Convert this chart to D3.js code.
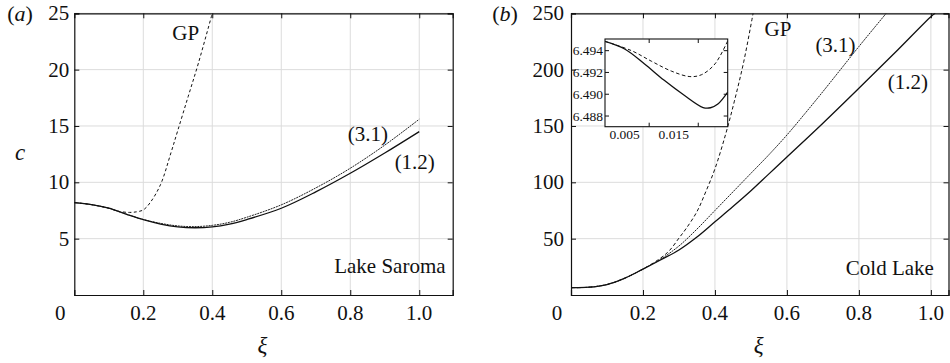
<!DOCTYPE html>
<html><head><meta charset="utf-8">
<script src="https://cdn.jsdelivr.net/npm/d3@7"></script>
<style>body{margin:0;background:#fff}svg{display:block}text{font-family:"Liberation Serif","Times New Roman",serif;fill:#111}</style>
</head><body><svg id="c" width="950" height="363"></svg>
<script>
// ---- Panel (a): Lake Saroma ----
const saromaXi  = [0, 0.05, 0.1, 0.15, 0.2, 0.25, 0.3, 0.35, 0.4, 0.45, 0.5, 0.6, 0.7, 0.8, 0.9, 1.0];
const saroma12  = [8.2, 8.02, 7.7, 7.18, 6.68, 6.3, 6.05, 5.97, 6.05, 6.3, 6.7, 7.7, 9.15, 10.8, 12.6, 14.5];
const saroma31  = [8.2, 8.02, 7.7, 7.18, 6.7, 6.36, 6.13, 6.07, 6.18, 6.45, 6.9, 8.0, 9.5, 11.25, 13.3, 15.6];
const saromaGPXi = [0, 0.05, 0.1, 0.13, 0.16, 0.18, 0.2, 0.22, 0.25, 0.28, 0.3, 0.33, 0.36, 0.4];
const saromaGP   = [8.2, 8.02, 7.7, 7.42, 7.33, 7.38, 7.55, 8.2, 9.8, 12.6, 14.6, 17.6, 20.6, 25];
const ticksXA = [0.2, 0.4, 0.6, 0.8, 1.0];
const ticksYA = [5, 10, 15, 20, 25];

// ---- Panel (b): Cold Lake ----
const coldXi   = [0, 0.05, 0.1, 0.15, 0.2, 0.25, 0.3, 0.35, 0.4, 0.45, 0.5, 0.55, 0.6, 0.7, 0.8, 0.9, 1.0, 1.012];
const cold12   = [6.49, 6.9, 9.3, 15.0, 23, 31.3, 40, 51.5, 65, 78.5, 92.5, 107.5, 122.5, 152.5, 183.5, 215, 247, 250];
const cold31Xi = [0, 0.05, 0.1, 0.15, 0.2, 0.25, 0.3, 0.35, 0.4, 0.45, 0.5, 0.55, 0.6, 0.65, 0.7, 0.75, 0.8, 0.876];
const cold31   = [6.49, 6.9, 9.3, 15.0, 23, 32, 43.5, 58.5, 75, 91.5, 108, 124.5, 142, 161, 180.5, 200.5, 220.5, 250];
const coldGPXi = [0, 0.05, 0.1, 0.15, 0.2, 0.25, 0.274, 0.3, 0.32, 0.35, 0.375, 0.4, 0.43, 0.454, 0.48, 0.506];
const coldGP   = [6.49, 6.9, 9.3, 15.0, 23, 33, 39.6, 50.5, 59, 74, 92, 112, 143, 172, 207, 250];
const ticksXB = [0.2, 0.4, 0.6, 0.8, 1.0];
const ticksYB = [50, 100, 150, 200, 250];

// ---- Inset of (b) ----
const insetXi   = [0.001, 0.005, 0.009, 0.013, 0.017, 0.021, 0.0225, 0.024, 0.026];
const inset12   = [6.49485, 6.49415, 6.4928, 6.4913, 6.48995, 6.48878, 6.48876, 6.4891, 6.4902];
const insetGPXi = [0.001, 0.0064, 0.0105, 0.0146, 0.0183, 0.0207, 0.0234, 0.026];
const insetGP   = [6.49485, 6.494, 6.49302, 6.49211, 6.49162, 6.4918, 6.49278, 6.4949];
const insetTickLabelsX = [0.005, 0.015];
const insetTickMarksX = [0.01, 0.02];
const insetTicksY = [6.488, 6.490, 6.492, 6.494];

const svg = d3.select("#c");
const zip = (xs, ys) => xs.map((x, i) => [x, ys[i]]);

function panel(cfg) {
  const x = d3.scaleLinear().domain(cfg.xd).range([cfg.l, cfg.r]);
  const y = d3.scaleLinear().domain(cfg.yd).range([cfg.b, cfg.t]);
  const g = svg.append("g");
  g.selectAll(".gx").data(cfg.tx).join("line")
    .attr("x1", d => x(d)).attr("x2", d => x(d)).attr("y1", cfg.t).attr("y2", cfg.b)
    .attr("stroke", "#dcdcdc").attr("stroke-width", 1);
  g.selectAll(".gy").data(cfg.ty).join("line")
    .attr("y1", d => y(d)).attr("y2", d => y(d)).attr("x1", cfg.l).attr("x2", cfg.r)
    .attr("stroke", "#dcdcdc").attr("stroke-width", 1);
  const ax = (gen, sc, tv, tr) => g.append("g").attr("transform", tr)
    .call(gen(sc).tickValues(tv).tickSize(-5).tickFormat(""))
    .call(s => s.select(".domain").attr("stroke", "#111").attr("stroke-width", 1.2))
    .call(s => s.selectAll(".tick line").attr("stroke", "#111"));
  ax(d3.axisBottom, x, cfg.tx, `translate(0,${cfg.b})`);
  ax(d3.axisTop, x, cfg.tx, `translate(0,${cfg.t})`);
  ax(d3.axisLeft, y, cfg.ty, `translate(${cfg.l},0)`);
  ax(d3.axisRight, y, cfg.ty, `translate(${cfg.r},0)`);
  g.selectAll(".lx").data(cfg.tx).join("text")
    .attr("x", d => x(d)).attr("y", cfg.b + 25).attr("text-anchor", "middle")
    .attr("font-size", 21).text(d => d3.format(".1f")(d));
  g.append("text").attr("x", x(0) - 14).attr("y", cfg.b + 25).attr("text-anchor", "middle")
    .attr("font-size", 21).text("0");
  g.selectAll(".ly").data(cfg.ty).join("text")
    .attr("x", cfg.l - cfg.lgap).attr("y", d => y(d) + 7).attr("text-anchor", "end")
    .attr("font-size", 21).text(d => d);
  g.append("text").attr("x", (cfg.l + cfg.r) / 2 - 1).attr("y", cfg.b + 58).attr("text-anchor", "middle")
    .attr("font-size", 23).attr("font-style", "italic").text("ξ");
  g.append("text").attr("x", cfg.letterX).attr("y", 21).attr("text-anchor", "middle")
    .attr("font-size", 22).html(`(<tspan font-style="italic">${cfg.letter}</tspan>)`);
  const clipId = "clip" + cfg.letter;
  svg.append("clipPath").attr("id", clipId).append("rect")
    .attr("x", cfg.l).attr("y", cfg.t).attr("width", cfg.r - cfg.l).attr("height", cfg.b - cfg.t);
  const line = d3.line().x(d => x(d[0])).y(d => y(d[1])).curve(d3.curveCatmullRom.alpha(0.5));
  const cg = g.append("g").attr("clip-path", `url(#${clipId})`);
  cfg.series.forEach(s => {
    cg.append("path").attr("d", line(s.pts)).attr("fill", "none").attr("stroke", s.c || "#111")
      .attr("stroke-width", s.w).attr("stroke-dasharray", s.dash || null);
  });
  cfg.labels.forEach(L => {
    g.append("text").attr("x", x(L[0])).attr("y", y(L[1])).attr("text-anchor", "middle")
      .attr("font-size", 21).text(L[2]);
  });
  return { x, y, g };
}

const A = panel({
  letter: "a", letterX: 20, l: 74.3, r: 452.7, t: 13.3, b: 295, lgap: 5,
  xd: [0, 1.097], yd: [0, 25], tx: ticksXA, ty: ticksYA,
  series: [
    { pts: zip(saromaGPXi, saromaGP), w: 1, dash: "3,2.5" },
    { pts: zip(saromaXi, saroma31), w: 1, dash: "2,0.8", c: "#222" },
    { pts: zip(saromaXi, saroma12), w: 1.3 }
  ],
  labels: [[0.323, 22.6, "GP"], [0.851, 13.7, "(3.1)"], [0.987, 11.2, "(1.2)"], [0.915, 1.95, "Lake Saroma"]]
});
A.g.append("text").attr("x", 20).attr("y", 160).attr("text-anchor", "middle")
  .attr("font-size", 23).attr("font-style", "italic").text("c");

const B = panel({
  letter: "b", letterX: 505, l: 571, r: 948.5, t: 13.3, b: 295, lgap: 7,
  xd: [0, 1.049], yd: [0, 250], tx: ticksXB, ty: ticksYB,
  series: [
    { pts: zip(coldGPXi, coldGP), w: 1, dash: "3.5,2.5" },
    { pts: zip(cold31Xi, cold31), w: 1, dash: "2,0.8", c: "#222" },
    { pts: zip(coldXi, cold12), w: 1.3 }
  ],
  labels: [[0.575, 230, "GP"], [0.735, 215.5, "(3.1)"], [0.936, 183, "(1.2)"], [0.886, 17.7, "Cold Lake"]]
});

// inset
(function () {
  const l = 605, r = 727.7, t = 39, b = 126.7;
  const x = d3.scaleLinear().domain([0.001, 0.026]).range([l, r]);
  const y = d3.scaleLinear().domain([6.48702, 6.49507]).range([b, t]);
  const g = svg.append("g");
  g.append("rect").attr("x", l).attr("y", t).attr("width", r - l).attr("height", b - t)
    .attr("fill", "#fff").attr("stroke", "#111").attr("stroke-width", 1.1);
  g.selectAll(".tb").data(insetTickMarksX).join("line")
    .attr("x1", d => x(d)).attr("x2", d => x(d)).attr("y1", b).attr("y2", b - 4).attr("stroke", "#111");
  g.selectAll(".tt").data(insetTickMarksX).join("line")
    .attr("x1", d => x(d)).attr("x2", d => x(d)).attr("y1", t).attr("y2", t + 4).attr("stroke", "#111");
  g.selectAll(".tl").data(insetTicksY).join("line")
    .attr("y1", d => y(d)).attr("y2", d => y(d)).attr("x1", l).attr("x2", l + 4).attr("stroke", "#111");
  g.selectAll(".tr").data(insetTicksY).join("line")
    .attr("y1", d => y(d)).attr("y2", d => y(d)).attr("x1", r).attr("x2", r - 4).attr("stroke", "#111");
  g.selectAll(".lx").data(insetTickLabelsX).join("text")
    .attr("x", d => x(d)).attr("y", b + 12).attr("text-anchor", "middle").attr("font-size", 13.5)
    .text(d => d3.format(".3f")(d));
  g.selectAll(".ly").data(insetTicksY).join("text")
    .attr("x", l - 2).attr("y", d => y(d) + 4.5).attr("text-anchor", "end").attr("font-size", 13.5)
    .text(d => d3.format(".3f")(d));
  svg.append("clipPath").attr("id", "clipI").append("rect")
    .attr("x", l).attr("y", t).attr("width", r - l).attr("height", b - t);
  const line = d3.line().x(d => x(d[0])).y(d => y(d[1])).curve(d3.curveCatmullRom.alpha(0.5));
  const cg = g.append("g").attr("clip-path", "url(#clipI)");
  cg.append("path").attr("d", line(zip(insetGPXi, insetGP))).attr("fill", "none")
    .attr("stroke", "#111").attr("stroke-width", 1).attr("stroke-dasharray", "3.5,2.5");
  cg.append("path").attr("d", line(zip(insetXi, inset12))).attr("fill", "none")
    .attr("stroke", "#111").attr("stroke-width", 1.3);
})();
</script></body></html>
